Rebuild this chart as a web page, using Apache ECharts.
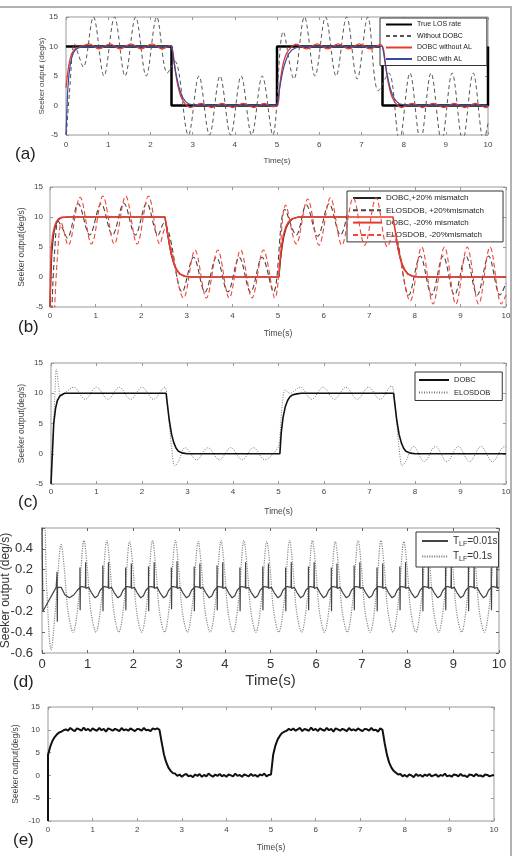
<!DOCTYPE html>
<html><head><meta charset="utf-8">
<script src="https://cdn.jsdelivr.net/npm/echarts/dist/echarts.min.js"></script>
<style>html,body{margin:0;padding:0;background:#fff}#c{width:514px;height:856px}</style>
</head><body><div id="c"></div>
<script>
// ---------- DATA ----------
const xTicks = [0,1,2,3,4,5,6,7,8,9,10];
// (a)
const aTrue = [[0,10],[2.5,10],[2.5,0],[5,0],[5,10],[7.5,10],[7.5,0],[10,0],[10,10]];
const aNoDobc = [[0,-6],[0.08,2],[0.2,10.5],[0.3,8.5],[0.41,6.5],[0.65,15],[0.9,5],[1.15,15],[1.4,5],[1.65,15],[1.9,5],[2.15,15],[2.4,5.5],[2.58,7.5],[2.9,-5],[3.15,5],[3.4,-5],[3.65,5],[3.9,-5],[4.15,5],[4.4,-5],[4.65,5],[4.9,-5],[5.15,12.5],[5.4,4.5],[5.65,15],[5.9,5],[6.15,15],[6.4,5],[6.65,15],[6.9,4.5],[7.15,15],[7.4,2.5],[7.65,5.5],[7.9,-6],[8.15,5.5],[8.4,-6],[8.65,5.5],[8.9,-6],[9.15,5.5],[9.4,-6],[9.65,5.5],[9.9,-6],[10,-3]];
const aNoAL = [[0,3],[0.04,5.5],[0.08,7.3],[0.12,8.5],[0.18,9.3],[0.26,9.8],[0.35,10],[0.55,10.45],[0.78,9.6],[1.04,10.45],[1.28,9.6],[1.54,10.45],[1.78,9.6],[2.04,10.45],[2.28,9.6],[2.45,10.1],[2.52,9.6],[2.56,7.6],[2.6,5.4],[2.65,3.4],[2.7,2.0],[2.75,1.1],[2.8,0.5],[2.88,-0.1],[2.95,-0.35],[3.2,0.35],[3.45,-0.35],[3.7,0.35],[3.95,-0.35],[4.2,0.35],[4.45,-0.35],[4.7,0.35],[4.9,-0.2],[5.02,0.2],[5.06,3],[5.1,5.3],[5.15,7.2],[5.2,8.4],[5.25,9.1],[5.3,9.6],[5.45,10.4],[5.7,9.6],[5.95,10.45],[6.2,9.6],[6.45,10.45],[6.7,9.6],[6.95,10.45],[7.2,9.6],[7.45,10.3],[7.52,9.6],[7.56,7.6],[7.6,5.4],[7.65,3.4],[7.7,2.0],[7.75,1.1],[7.8,0.5],[7.88,-0.1],[7.95,-0.35],[8.2,0.35],[8.45,-0.35],[8.7,0.35],[8.95,-0.35],[9.2,0.35],[9.45,-0.35],[9.7,0.35],[9.95,-0.35],[10,-0.2]];
const aAL = [[0,-5],[0.02,-1],[0.04,2.5],[0.07,5.2],[0.1,6.9],[0.14,8.2],[0.18,9],[0.23,9.5],[0.3,9.8],[0.4,9.95],[0.5,10],[2.5,10],[2.53,8.8],[2.56,7.3],[2.6,5.6],[2.64,4.2],[2.68,3],[2.72,2.1],[2.77,1.3],[2.83,0.7],[2.9,0.3],[3.0,0.1],[3.1,0],[5.0,0],[5.03,1.3],[5.06,2.8],[5.1,4.5],[5.14,5.9],[5.18,7],[5.23,8],[5.28,8.8],[5.35,9.4],[5.45,9.8],[5.6,10],[7.5,10],[7.53,8.8],[7.56,7.3],[7.6,5.6],[7.64,4.2],[7.68,3],[7.72,2.1],[7.77,1.3],[7.83,0.7],[7.9,0.3],[8.0,0.1],[8.1,0],[10,0]];
// (b)
const bDobcP = [[0,-5],[0.02,0],[0.04,4],[0.07,6.5],[0.1,8],[0.14,9],[0.19,9.6],[0.26,9.9],[0.4,10],[2.52,10],[2.55,8.6],[2.59,6.6],[2.63,4.8],[2.67,3.4],[2.72,2.1],[2.78,1.1],[2.85,0.5],[2.95,0.1],[3.1,0],[5.02,0],[5.05,2.5],[5.09,5],[5.13,6.8],[5.18,8.2],[5.24,9.1],[5.32,9.7],[5.45,10],[7.52,10],[7.55,8.6],[7.59,6.6],[7.63,4.8],[7.67,3.4],[7.72,2.1],[7.78,1.1],[7.85,0.5],[7.95,0.1],[8.1,0],[10,0]];
const bElosP = [[0.04,-5.5],[0.1,4],[0.18,9.3],[0.28,8],[0.38,6.5],[0.62,12.2],[0.87,7],[1.12,12.2],[1.37,7],[1.62,12.3],[1.87,7],[2.12,12.3],[2.37,7],[2.5,9],[2.62,7],[2.9,-2.5],[3.15,3.3],[3.4,-2.5],[3.65,3.3],[3.9,-2.5],[4.15,3.3],[4.4,-2.5],[4.65,3.3],[4.9,-2.5],[5.15,11.3],[5.4,7],[5.62,12],[5.87,6.8],[6.12,12.2],[6.37,7],[6.62,12.2],[6.87,7],[7.12,12.2],[7.37,7],[7.5,8.5],[7.62,6],[7.87,-3],[8.12,3.5],[8.37,-3],[8.62,3.5],[8.87,-3],[9.12,3.5],[9.37,-3],[9.62,3.5],[9.87,-3],[10,-1]];
const bDobcM = [[0,-5],[0.01,0],[0.03,4.8],[0.06,7],[0.1,8.4],[0.14,9.2],[0.19,9.7],[0.26,9.95],[0.4,10],[2.52,10],[2.55,8.7],[2.59,6.8],[2.63,5],[2.67,3.6],[2.72,2.2],[2.78,1.2],[2.85,0.5],[2.95,0.15],[3.1,0],[5.02,0],[5.04,2.5],[5.08,5.2],[5.12,7],[5.17,8.3],[5.23,9.2],[5.31,9.7],[5.45,10],[7.52,10],[7.55,8.7],[7.59,6.8],[7.63,5],[7.67,3.6],[7.72,2.2],[7.78,1.2],[7.85,0.5],[7.95,0.15],[8.1,0],[10,0]];
const bElosM = [[0.1,-5.5],[0.16,3],[0.25,9],[0.4,5.3],[0.66,13.3],[0.91,5.5],[1.16,13.5],[1.41,5.5],[1.66,13.5],[1.91,5.5],[2.16,13.5],[2.41,5.5],[2.52,8],[2.65,5],[2.93,-3.5],[3.18,4.5],[3.43,-3.5],[3.68,4.5],[3.93,-3.5],[4.18,4.5],[4.43,-3.5],[4.68,4.5],[4.93,-3.5],[5.17,12],[5.4,5.5],[5.65,13],[5.9,5.3],[6.15,13.2],[6.4,5.3],[6.65,13.2],[6.9,5.3],[7.15,13.2],[7.4,5],[7.52,7],[7.65,4],[7.9,-4],[8.15,5],[8.4,-4.5],[8.65,5],[8.9,-4.5],[9.15,5],[9.4,-4.5],[9.65,5],[9.9,-4.5],[10,-3]];
// (c)
const cDobc = [[0,-5],[0.03,0],[0.06,5],[0.1,7.5],[0.14,8.8],[0.2,9.6],[0.3,10],[2.53,10],[2.56,8],[2.6,5.5],[2.65,3.2],[2.7,1.8],[2.75,0.9],[2.8,0.4],[2.9,0.1],[3.0,0],[5.03,0],[5.06,3.5],[5.1,6],[5.15,7.8],[5.2,8.8],[5.25,9.4],[5.3,9.7],[5.4,9.9],[5.5,10],[7.53,10],[7.56,8],[7.6,5.5],[7.65,3.2],[7.7,1.8],[7.75,0.9],[7.8,0.4],[7.9,0.1],[8.0,0],[10,0]];
const cElos = [[0,-3],[0.04,2],[0.08,9],[0.12,14],[0.17,11],[0.22,9.5],[0.3,10],[0.5,11],[0.75,9],[1.0,11],[1.25,9],[1.5,11],[1.75,9],[2.0,11],[2.25,9],[2.5,11],[2.55,9],[2.6,5],[2.65,1],[2.72,-2],[2.8,-1.3],[2.95,1],[3.2,-1],[3.45,1],[3.7,-1],[3.95,1],[4.2,-1],[4.45,1],[4.7,-1],[4.97,0.8],[5.02,2],[5.08,8],[5.15,10.5],[5.25,10],[5.48,11],[5.73,9],[5.98,11],[6.23,9],[6.48,11],[6.73,9],[6.98,11],[7.23,9],[7.48,11.2],[7.55,9],[7.6,5],[7.65,1],[7.72,-2],[7.8,-1.2],[7.97,1.2],[8.2,-1.3],[8.45,1.2],[8.7,-1.3],[8.95,1.2],[9.2,-1.3],[9.45,1.2],[9.7,-1.3],[9.97,1.2],[10,1]];
// (d)
const dFast = [[0,0.62],[0.02,0.62],[0.02,-0.2],[0.31,0.03],[0.33,0.18],[0.335,-0.3],[0.34,0.03],[0.42,0.03],[0.5,-0.04],[0.6,-0.07],[0.7,-0.04],
[0.77,0],[0.83,0.03],[0.83,0.22],[0.835,-0.19],[0.84,0.04],[0.95,0.03],[0.955,0.27],[0.96,0.02],[1.02,0.03],[1.08,-0.02],[1.16,-0.07],[1.22,-0.05],
[1.27,0],[1.33,0.03],[1.33,0.24],[1.335,-0.2],[1.34,0.04],[1.45,0.03],[1.455,0.27],[1.46,0.02],[1.52,0.03],[1.58,-0.02],[1.66,-0.07],[1.72,-0.05],
[1.77,0],[1.83,0.03],[1.83,0.22],[1.835,-0.19],[1.84,0.04],[1.95,0.03],[1.955,0.26],[1.96,0.02],[2.02,0.03],[2.08,-0.02],[2.16,-0.07],[2.22,-0.05],
[2.27,0],[2.33,0.03],[2.33,0.23],[2.335,-0.2],[2.34,0.04],[2.45,0.03],[2.455,0.27],[2.46,0.02],[2.52,0.03],[2.58,-0.02],[2.66,-0.07],[2.72,-0.05],
[2.77,0],[2.83,0.03],[2.83,0.22],[2.835,-0.18],[2.84,0.04],[2.95,0.03],[2.955,0.28],[2.96,0.02],[3.02,0.03],[3.08,-0.02],[3.16,-0.07],[3.22,-0.05],
[3.27,0],[3.33,0.03],[3.33,0.23],[3.335,-0.2],[3.34,0.04],[3.45,0.03],[3.455,0.26],[3.46,0.02],[3.52,0.03],[3.58,-0.02],[3.66,-0.07],[3.72,-0.05],
[3.77,0],[3.83,0.03],[3.83,0.24],[3.835,-0.19],[3.84,0.04],[3.95,0.03],[3.955,0.27],[3.96,0.02],[4.02,0.03],[4.08,-0.02],[4.16,-0.07],[4.22,-0.05],
[4.27,0],[4.33,0.03],[4.33,0.22],[4.335,-0.2],[4.34,0.04],[4.45,0.03],[4.455,0.27],[4.46,0.02],[4.52,0.03],[4.58,-0.02],[4.66,-0.07],[4.72,-0.05],
[4.77,0],[4.83,0.03],[4.83,0.23],[4.835,-0.19],[4.84,0.04],[4.95,0.03],[4.955,0.26],[4.96,0.02],[5.02,0.03],[5.08,-0.02],[5.16,-0.07],[5.22,-0.05],
[5.27,0],[5.33,0.03],[5.33,0.22],[5.335,-0.2],[5.34,0.04],[5.45,0.03],[5.455,0.27],[5.46,0.02],[5.52,0.03],[5.58,-0.02],[5.66,-0.07],[5.72,-0.05],
[5.77,0],[5.83,0.03],[5.83,0.23],[5.835,-0.19],[5.84,0.04],[5.95,0.03],[5.955,0.27],[5.96,0.02],[6.02,0.03],[6.08,-0.02],[6.16,-0.07],[6.22,-0.05],
[6.27,0],[6.33,0.03],[6.33,0.22],[6.335,-0.2],[6.34,0.04],[6.45,0.03],[6.455,0.26],[6.46,0.02],[6.52,0.03],[6.58,-0.02],[6.66,-0.07],[6.72,-0.05],
[6.77,0],[6.83,0.03],[6.83,0.24],[6.835,-0.19],[6.84,0.04],[6.95,0.03],[6.955,0.27],[6.96,0.02],[7.02,0.03],[7.08,-0.02],[7.16,-0.07],[7.22,-0.05],
[7.27,0],[7.33,0.03],[7.33,0.22],[7.335,-0.2],[7.34,0.04],[7.45,0.03],[7.455,0.26],[7.46,0.02],[7.52,0.03],[7.58,-0.02],[7.66,-0.07],[7.72,-0.05],
[7.77,0],[7.83,0.03],[7.83,0.23],[7.835,-0.19],[7.84,0.04],[7.95,0.03],[7.955,0.27],[7.96,0.02],[8.02,0.03],[8.08,-0.02],[8.16,-0.07],[8.22,-0.05],
[8.27,0],[8.33,0.03],[8.33,0.22],[8.335,-0.2],[8.34,0.04],[8.45,0.03],[8.455,0.26],[8.46,0.02],[8.52,0.03],[8.58,-0.02],[8.66,-0.07],[8.72,-0.05],
[8.77,0],[8.83,0.03],[8.83,0.22],[8.835,-0.19],[8.84,0.04],[8.95,0.03],[8.955,0.27],[8.96,0.02],[9.02,0.03],[9.08,-0.02],[9.16,-0.07],[9.22,-0.05],
[9.27,0],[9.33,0.03],[9.33,0.23],[9.335,-0.2],[9.34,0.04],[9.45,0.03],[9.455,0.26],[9.46,0.02],[9.52,0.03],[9.58,-0.02],[9.66,-0.07],[9.72,-0.05],
[9.77,0],[9.83,0.03],[9.83,0.22],[9.835,-0.19],[9.84,0.04],[9.95,0.03],[9.955,0.25],[9.96,0.02],[10,0.03]];
const dSlow = [[0,0.65],[0.05,0.65],[0.1,0.05],[0.2,-0.57],[0.3,-0.15],[0.42,0.44],[0.49,0.2],[0.57,-0.2],[0.68,-0.4],[0.8,-0.1],
[0.92,0.48],[0.99,0.22],[1.07,-0.2],[1.18,-0.4],[1.3,-0.1],
[1.42,0.48],[1.49,0.22],[1.57,-0.2],[1.68,-0.4],[1.8,-0.1],
[1.92,0.47],[1.99,0.22],[2.07,-0.2],[2.18,-0.4],[2.3,-0.1],
[2.42,0.48],[2.49,0.22],[2.57,-0.2],[2.68,-0.4],[2.8,-0.1],
[2.92,0.48],[2.99,0.22],[3.07,-0.2],[3.18,-0.4],[3.3,-0.1],
[3.42,0.47],[3.49,0.22],[3.57,-0.2],[3.68,-0.4],[3.8,-0.1],
[3.92,0.48],[3.99,0.22],[4.07,-0.2],[4.18,-0.4],[4.3,-0.1],
[4.42,0.48],[4.49,0.22],[4.57,-0.2],[4.68,-0.4],[4.8,-0.1],
[4.92,0.47],[4.99,0.22],[5.07,-0.2],[5.18,-0.4],[5.3,-0.1],
[5.42,0.48],[5.49,0.22],[5.57,-0.2],[5.68,-0.4],[5.8,-0.1],
[5.92,0.48],[5.99,0.22],[6.07,-0.2],[6.18,-0.4],[6.3,-0.1],
[6.42,0.47],[6.49,0.22],[6.57,-0.2],[6.68,-0.4],[6.8,-0.1],
[6.92,0.48],[6.99,0.22],[7.07,-0.2],[7.18,-0.4],[7.3,-0.1],
[7.42,0.48],[7.49,0.22],[7.57,-0.2],[7.68,-0.4],[7.8,-0.1],
[7.92,0.47],[7.99,0.22],[8.07,-0.2],[8.18,-0.4],[8.3,-0.1],
[8.42,0.48],[8.49,0.22],[8.57,-0.2],[8.68,-0.4],[8.8,-0.1],
[8.92,0.48],[8.99,0.22],[9.07,-0.2],[9.18,-0.4],[9.3,-0.1],
[9.42,0.47],[9.49,0.22],[9.57,-0.2],[9.68,-0.4],[9.8,-0.1],
[9.92,0.48],[9.99,0.22],[10,0.18]];
// (e) sampled every 0.05 s from t=0
const eStart = [[0,-10]];
const eVals = [
4.5,6.3,7.6,8.4,9.0,9.4,9.6,9.9,10.1,9.8,
10.4,10.0,9.7,10.3,10.1,9.8,10.5,9.9,10.2,9.7,
10.3,10.0,9.8,10.4,9.9,10.2,9.6,10.3,10.1,9.8,
10.2,10.0,9.7,10.4,9.9,10.1,9.8,10.3,10.0,9.7,
10.2,10.1,9.8,10.4,9.9,10.0,9.7,10.3,10.1,10.3,
10.0,7.2,4.6,2.9,1.7,1.0,0.5,0.4,-0.1,0.2,
-0.3,0.1,0.3,-0.2,0.0,-0.4,0.2,-0.1,0.3,-0.3,
0.1,-0.2,0.4,0.0,-0.3,0.2,-0.1,0.3,-0.2,0.1,
-0.3,0.2,0.0,-0.2,0.4,-0.1,0.1,-0.3,0.2,0.0,
-0.2,0.3,-0.1,0.1,-0.3,0.2,0.0,0.4,-0.2,0.1,
0.2,4.6,6.6,7.9,8.7,9.3,9.6,9.8,10.2,9.9,
10.3,9.8,10.1,10.4,9.7,10.2,10.0,9.8,10.5,9.9,
10.2,9.7,10.3,10.0,9.8,10.4,9.9,10.2,9.6,10.3,
10.1,9.8,10.2,10.0,9.7,10.4,9.9,10.1,9.8,10.3,
10.0,9.7,10.2,10.1,9.8,10.4,9.9,10.0,9.6,10.3,
10.0,7.0,4.5,2.8,1.7,1.0,0.6,0.2,0.3,-0.2,
0.1,-0.3,0.2,0.0,-0.4,0.3,-0.1,0.1,-0.3,0.2,
-0.1,0.3,-0.2,0.0,0.2,-0.3,0.1,-0.1,0.4,-0.2,
0.0,-0.3,0.2,0.1,-0.2,0.3,-0.1,0.0,-0.4,0.2,
0.1,-0.2,0.3,-0.1,0.0,-0.3,0.2,0.1,-0.2,0.0,
0.1];
const eStep = 0.05;

// ---------- CHART ----------
const fam = 'Liberation Sans, Arial, sans-serif';
const grids = [
  {left:66, top:17, width:422, height:118},
  {left:50, top:187, width:456, height:120},
  {left:51, top:363, width:455, height:121},
  {left:42, top:528, width:457, height:125},
  {left:48, top:707, width:446, height:114}
];
const ycfg = [
  {min:-5,max:15,int:5,name:'Seeker output (deg/s)',fs:8,nfs:8,xfs:8,xm:6,ym:8,xg:22,yg:20,col:'#444',bc:'#999'},
  {min:-5,max:15,int:5,name:'Seeker output(deg/s)',fs:8,nfs:8.5,xfs:8.5,xm:5,ym:7,xg:22,yg:24,col:'#444',bc:'#999'},
  {min:-5,max:15,int:5,name:'Seeker output(deg/s)',fs:8,nfs:8.5,xfs:8.5,xm:4,ym:8,xg:23,yg:25,col:'#444',bc:'#999'},
  {min:-0.6,max:0.6,int:0.2,name:'Seeker output (deg/s)',fs:13,nfs:12,xfs:15,xm:5,ym:9,xg:20,yg:30,col:'#333',bc:'#666'},
  {min:-10,max:15,int:5,name:'Seeker output(deg/s)',fs:8,nfs:8.5,xfs:8.5,xm:5,ym:8,xg:22,yg:28,col:'#444',bc:'#999'}
];
const xAxis = [], yAxis = [];
grids.forEach((g,i)=>{
  const c = ycfg[i];
  const tick = {inside:true,length:3,lineStyle:{color:c.bc}};
  const aLine = {show:false,onZero:false};
  xAxis.push({gridIndex:i,type:'value',min:0,max:10,interval:1,axisLine:aLine,axisTick:tick,splitLine:{show:false},
    axisLabel:{fontSize:c.fs,color:c.col,margin:c.xm,fontFamily:fam},name:'Time(s)',nameLocation:'middle',nameGap:c.xg,nameMoveOverlap:false,
    nameTextStyle:{fontSize:c.xfs,color:c.col,fontFamily:fam}});
  xAxis.push({gridIndex:i,type:'value',position:'top',min:0,max:10,interval:1,axisLine:aLine,axisTick:tick,axisLabel:{show:false},splitLine:{show:false}});
  yAxis.push({gridIndex:i,type:'value',min:c.min,max:c.max,interval:c.int,axisLine:aLine,axisTick:tick,splitLine:{show:false},
    axisLabel:{fontSize:c.fs,color:c.col,margin:c.ym,fontFamily:fam,formatter:function(v){const r=Math.round(v*10)/10; if(i===3&&r===0.6) return ''; return String(r);}},
    name:c.name,nameLocation:'middle',nameGap:c.yg,nameMoveOverlap:false,nameTextStyle:{fontSize:c.nfs,color:c.col,fontFamily:fam}});
  yAxis.push({gridIndex:i,type:'value',position:'right',min:c.min,max:c.max,interval:c.int,axisLine:aLine,axisTick:tick,axisLabel:{show:false},splitLine:{show:false}});
});
function L(name,data,gi,color,width,type,smooth,z){
  return {type:'line',name,data,xAxisIndex:gi*2,yAxisIndex:gi*2,symbol:'none',showSymbol:false,smooth:smooth||false,
    lineStyle:{color,width,type:type||'solid'},itemStyle:{color},emphasis:{disabled:true},animation:false,z:z||2,clip:true};
}
const eData = eStart.concat(eVals.map((v,i)=>[Math.round(i*eStep*100)/100, v]));
const series = [
  L('True LOS rate',aTrue,0,'#000',2.5,'solid',false,2),
  L('Without DOBC',aNoDobc,0,'#555',1,[4,3],0.35,3),
  L('DOBC without AL',aNoAL,0,'#e8392b',1.3,'solid',0.3,4),
  L('DOBC with AL',aAL,0,'#3a4aa0',1.2,'solid',false,5),
  L('DOBC,+20% mismatch',bDobcP,1,'#222',1.2,'solid',false,2),
  L('ELOSDOB, +20%mismatch',bElosP,1,'#444',1.1,[5,3],0.35,3),
  L('DOBC, -20% mismatch',bDobcM,1,'#e8392b',1.6,'solid',false,4),
  L('ELOSDOB, -20%mismatch',bElosM,1,'#f0443a',1.1,[5,3],0.35,5),
  L('DOBC',cDobc,2,'#111',1.6,'solid',false,3),
  L('ELOSDOB',cElos,2,'#777',1,[1,1.5],0.35,2),
  L('T_LF=0.01s',dFast,3,'#444',1.2,'solid',false,3),
  L('T_LF=0.1s',dSlow,3,'#888',1.2,[1.2,1.2],0.35,2),
  L('eOut',eData,4,'#111',2,'solid',false,2)
];
const lgBase = {orient:'vertical',backgroundColor:'#fff',borderColor:'#333',borderWidth:1,borderRadius:0,selectedMode:false,
  itemStyle:{opacity:0,borderWidth:0}};
const option = {
  backgroundColor:'#fff',
  animation:false,
  grid: grids.map(g=>Object.assign({show:true,borderColor:'#999',borderWidth:1,backgroundColor:'#fff',containLabel:false,outerBoundsMode:'none'},g)),
  xAxis, yAxis, series,
  legend:[
    Object.assign({},lgBase,{data:['True LOS rate','Without DOBC','DOBC without AL','DOBC with AL'],left:380,top:18,padding:[3,15,3,5],
      itemWidth:26,itemHeight:8,itemGap:4.5,textStyle:{fontSize:7,color:'#222',fontFamily:fam}}),
    Object.assign({},lgBase,{data:['DOBC,+20% mismatch','ELOSDOB, +20%mismatch','DOBC, -20% mismatch','ELOSDOB, -20%mismatch'],left:347,top:191,padding:[3,19,3,5],
      itemWidth:28,itemHeight:9,itemGap:4.3,textStyle:{fontSize:8,color:'#222',fontFamily:fam}}),
    Object.assign({},lgBase,{data:['DOBC','ELOSDOB'],left:415,top:372,padding:[4,12,4,3],
      itemWidth:30,itemHeight:9,itemGap:4.5,textStyle:{fontSize:7.5,color:'#222',fontFamily:fam}}),
    Object.assign({},lgBase,{data:['T_LF=0.01s','T_LF=0.1s'],left:416,top:532,padding:[4,1,4,5],
      itemWidth:26,itemHeight:12,itemGap:4,
      formatter:function(n){return n==='T_LF=0.01s'?'{m|T}{s|LF}{m|=0.01s}':'{m|T}{s|LF}{m|=0.1s}';},
      textStyle:{fontSize:10,color:'#333',fontFamily:fam,rich:{m:{fontSize:10,color:'#333',fontFamily:fam},s:{fontSize:7,color:'#333',fontFamily:fam,padding:[6,0,0,0]}}}})
  ],
  graphic:[
    {type:'rect',shape:{x:-2,y:7,width:513,height:870},style:{fill:'none',stroke:'#999',lineWidth:1.5},silent:true,z:0},
    {type:'text',left:15,top:146,style:{text:'(a)',fontSize:17,fontFamily:fam,fill:'#222'}},
    {type:'text',left:18,top:319,style:{text:'(b)',fontSize:17,fontFamily:fam,fill:'#222'}},
    {type:'text',left:18,top:494,style:{text:'(c)',fontSize:17,fontFamily:fam,fill:'#222'}},
    {type:'text',left:13,top:674,style:{text:'(d)',fontSize:17,fontFamily:fam,fill:'#222'}},
    {type:'text',left:13,top:832,style:{text:'(e)',fontSize:17,fontFamily:fam,fill:'#222'}}
  ]
};
const chart = echarts.init(document.getElementById('c'),null,{renderer:'canvas'});
chart.setOption(option);
</script></body></html>
